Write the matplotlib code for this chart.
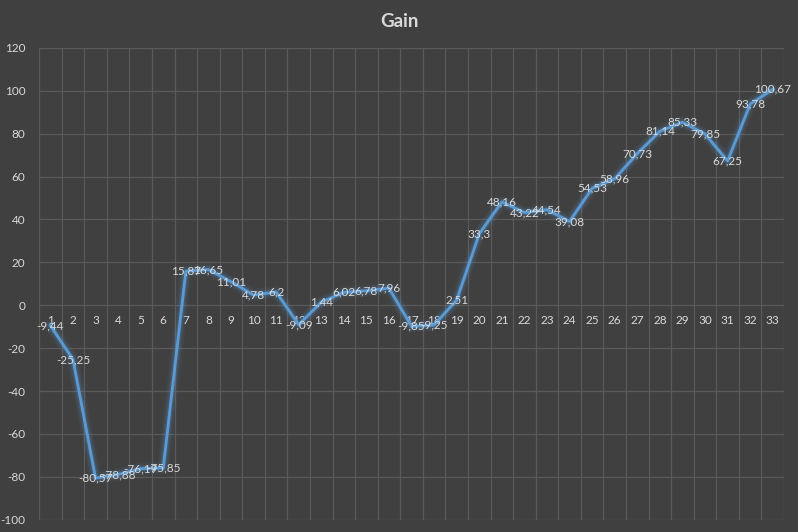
import matplotlib
matplotlib.use("Agg")
import matplotlib.pyplot as plt

# data
categories = [str(i) for i in range(1, 34)]
gain = [-9.44, -25.25, -80.57, -78.88, -76.19, -75.85, 15.87, 16.65, 11.01, 4.78,
        6.2, -9.09, 1.44, 6.02, 6.78, 7.96, -9.85, -9.25, 2.51, 33.3,
        48.16, 43.22, 44.54, 39.08, 54.53, 58.96, 70.73, 81.14, 85.33, 79.85,
        67.25, 93.78, 100.67]
y_ticks = list(range(-100, 121, 20))

bg = "#404040"
grid_col = "#5a5a5a"
text_col = "#d9d9d9"
line_col = "#5b9bd5"

plt.rcParams['font.family'] = ['Lato', 'DejaVu Sans']

fig = plt.figure(figsize=(7.98, 5.32), dpi=100, facecolor=bg)
ax = fig.add_axes([0.049, 0.023, 0.9335, 0.887])
ax.set_facecolor(bg)

x = list(range(len(gain)))

# soft glow under the line
for lw, a in [(9, 0.05), (7, 0.07), (5, 0.10), (3.5, 0.15)]:
    ax.plot(x, gain, color=line_col, lw=lw, alpha=a, solid_joinstyle='round',
            solid_capstyle='round', zorder=2)
ax.plot(x, gain, color=line_col, lw=2, solid_joinstyle='round', zorder=3)

# data labels, comma decimal like the source
for xi, v in zip(x, gain):
    txt = ('%g' % v).replace('.', ',')
    ax.text(xi, v, txt, ha='center', va='center', color=text_col,
            fontsize=8.5, zorder=4)

# category labels sit just under the zero line
for xi, c in zip(x, categories):
    ax.annotate(c, (xi, 0), xytext=(0, -11), textcoords='offset points',
                ha='center', va='center', color=text_col, fontsize=8.5, zorder=1)

ax.set_xlim(-0.5, len(gain) - 0.5)
ax.set_ylim(-100, 120)
ax.set_yticks(y_ticks)
ax.set_yticklabels([str(t) for t in y_ticks])
ax.set_xticks([i - 0.5 for i in range(len(gain) + 1)], minor=False)
ax.set_xticklabels([])
ax.tick_params(axis='both', length=0, colors=text_col, labelsize=8.5, pad=10)
ax.grid(True, color=grid_col, lw=0.9)
ax.set_axisbelow(True)
for s in ax.spines.values():
    s.set_visible(False)

fig.text(0.5, 0.96, 'Gain', ha='center', va='center', color=text_col,
         fontsize=13.5, fontweight='bold')

fig.savefig('out.png', dpi=100, facecolor=bg)
